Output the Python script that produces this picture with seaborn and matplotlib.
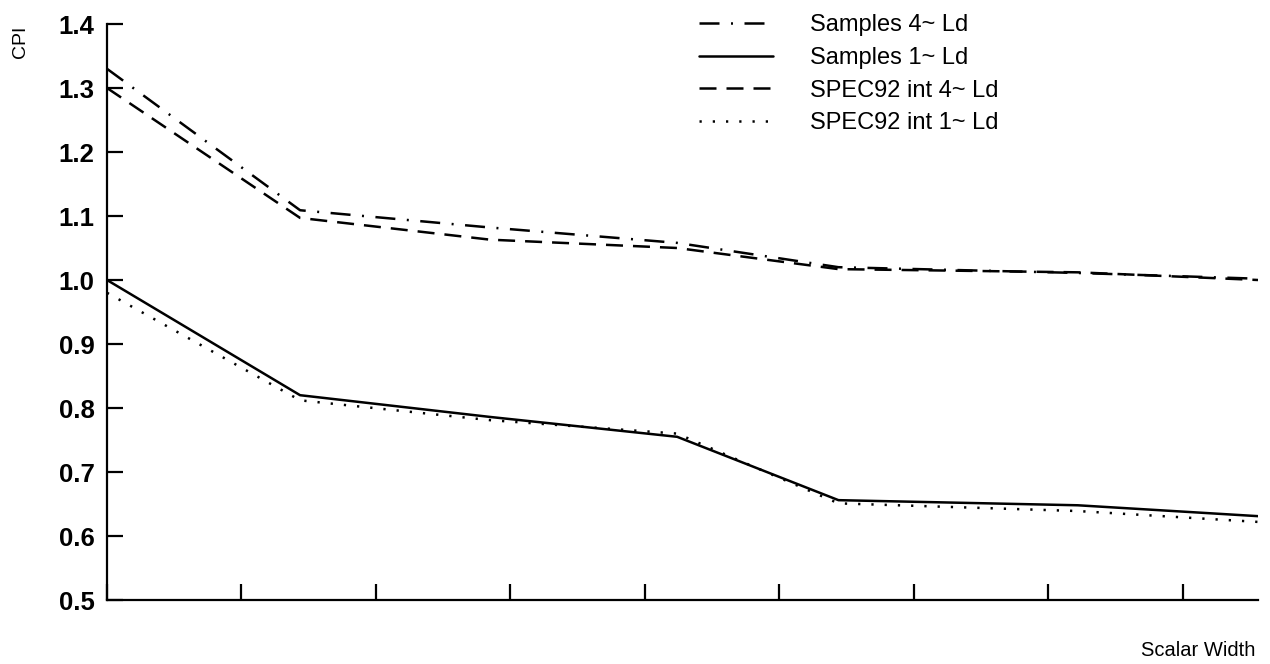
import pandas as pd
import numpy as np
import matplotlib
matplotlib.use("Agg")
import matplotlib.pyplot as plt
import seaborn as sns

# x positions in tick units (ticks are unlabeled in the original)
width_pos = [0, 1.436, 2.85, 4.24, 5.44, 7.22, 8.56]

samples_4 = [1.330, 1.109, 1.082, 1.058, 1.020, 1.011, 1.002]
samples_1 = [1.000, 0.820, 0.786, 0.755, 0.656, 0.648, 0.631]
spec_4 = [1.300, 1.097, 1.063, 1.050, 1.017, 1.012, 1.000]
spec_1 = [0.980, 0.812, 0.781, 0.760, 0.651, 0.639, 0.622]

series_names = ["Samples 4~ Ld", "Samples 1~ Ld",
                "SPEC92 int 4~ Ld", "SPEC92 int 1~ Ld"]
series_vals = [samples_4, samples_1, spec_4, spec_1]

df = pd.concat([pd.DataFrame({"x": width_pos, "CPI": v, "series": n})
                for n, v in zip(series_names, series_vals)])

sns.set_style("white")
plt.rcParams["font.family"] = ["Liberation Sans", "DejaVu Sans"]
plt.rcParams["text.color"] = "black"
plt.rcParams["xtick.color"] = "black"
plt.rcParams["ytick.color"] = "black"

fig = plt.figure(figsize=(12.7, 6.64), dpi=100)
ax = fig.add_axes([107 / 1270, 1 - 600 / 664, (1258 - 107) / 1270,
                   (600 - 24) / 664])

dash_map = {
    "Samples 4~ Ld": (8, 4.6, 0.8, 4.6),
    "Samples 1~ Ld": "",
    "SPEC92 int 4~ Ld": (6.8, 4),
    "SPEC92 int 1~ Ld": (0.9, 4.4),
}
sns.lineplot(data=df, x="x", y="CPI", style="series", style_order=series_names,
             dashes=dash_map, color="black", linewidth=1.8, ax=ax)

ax.set_xlim(0, 8.56)
ax.set_ylim(0.5, 1.4)
ax.set_xticks(np.arange(0, 9))
ax.set_xticklabels([])
ax.set_yticks([0.5, 0.6, 0.7, 0.8, 0.9, 1.0, 1.1, 1.2, 1.3, 1.4])
ax.set_yticklabels([f"{v:.1f}" for v in ax.get_yticks()],
                   fontsize=18.5, fontweight="bold", color="black")
ax.tick_params(axis="both", direction="in", length=11.5, width=1.6,
               color="black", left=True, bottom=True, pad=9)
for s in ["top", "right"]:
    ax.spines[s].set_visible(False)
for s in ["left", "bottom"]:
    ax.spines[s].set_color("black")
    ax.spines[s].set_linewidth(1.6)
ax.set_xlabel("")
ax.set_ylabel("")

fig.text(20 / 1270, 1 - 42 / 664, "CPI", rotation=90, fontsize=14,
         ha="center", va="center", color="black")
fig.text(1255 / 1270, 1 - 651 / 664, "Scalar Width", fontsize=14.5,
         ha="right", va="center", color="black")

handles, labels = ax.get_legend_handles_labels()
leg = ax.legend(handles, labels, loc="upper left",
                bbox_to_anchor=(690 / 1270, 1 - 5 / 664),
                bbox_transform=fig.transFigure, frameon=False, fontsize=17,
                handlelength=3.1, handletextpad=1.6, labelspacing=0.45,
                borderaxespad=0)
for h in leg.get_lines():
    h.set_linewidth(1.8)
for t in leg.get_texts():
    t.set_color("black")

fig.savefig("out.png", dpi=100, facecolor="white")
